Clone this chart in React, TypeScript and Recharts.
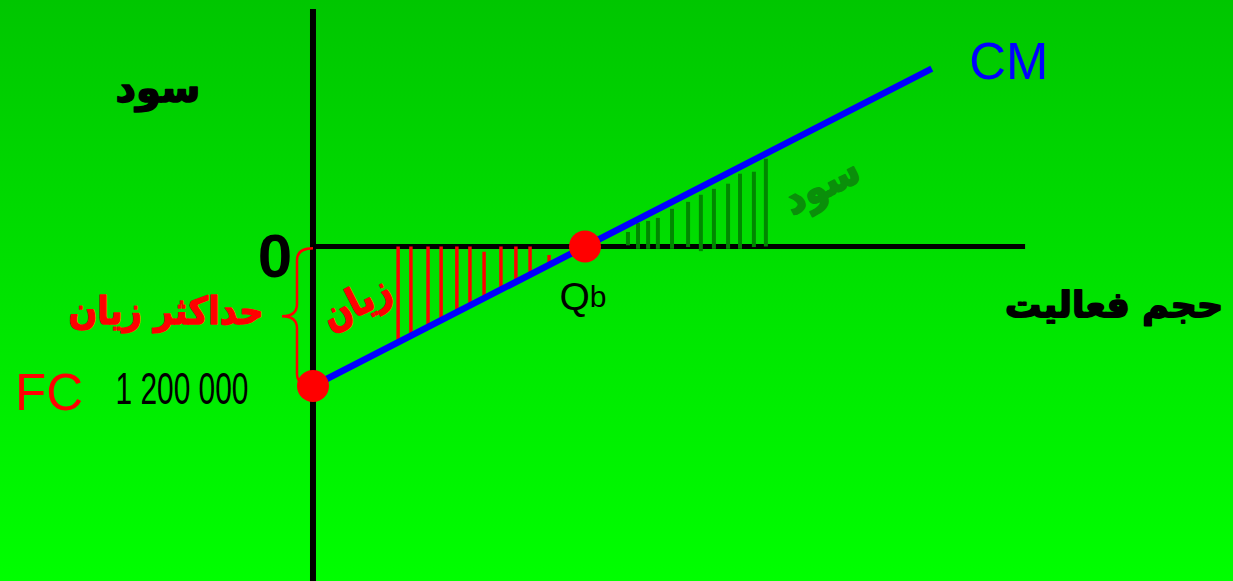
import React from 'react';
import { ComposedChart, Line, XAxis, YAxis, ReferenceLine, ReferenceDot } from 'recharts';

// volume (q) and profit (p, thousands)
const cmQ = [0, 100, 227.5];
const cmProfit = [-1200, 0, 1530];

const fixedCost = -1200;
const breakEvenQ = 100;

// red hatching in the loss triangle
const lossHatchQ = [31.3, 36.0, 42.3, 47.1, 52.9, 57.7, 62.9, 69.1, 74.6, 79.8, 86.8];
const lossHatchTop = [0, 0, 0, 0, 0, 0, -45, 0, 0, 0, -73];
const lossHatchBottom = [-825, -768, -692, -635, -565, -508, -445, -371, -305, -242, -142];

// green hatching in the profit triangle
const profitHatchQ = [115.8, 119.5, 123.2, 126.8, 132.0, 137.9, 142.6, 147.4, 152.6, 157.0, 162.1, 166.5];
const profitHatchTop = [125, 203, 220, 246, 324, 384, 445, 496, 540, 626, 643, 755];
const profitHatchBottom = [10, -20, -20, -20, -20, -5, -40, -20, -20, -20, -5, 0];

const W = 1233;
const H = 581;
const X_DOMAIN: [number, number] = [-115.07, 338.24];
const Y_DOMAIN: [number, number] = [-2877, 2120];
const AXIS_TOP = 2042;
const AXIS_BOTTOM = -2877;
const AXIS_END = 261.8;

const ARABIC = '"DejaVu Sans", sans-serif';
const LATIN = '"Liberation Sans", Arial, sans-serif';

const chartData = cmQ.map((q, i) => ({ q, p: cmProfit[i] }));

type TextOpts = {
  size: number;
  fill?: string;
  bold?: boolean;
  font?: string;
  len?: number;
  rotate?: number;
  heavy?: number;
};

// text drawn relative to a reference point
const textAt = (s: React.ReactNode, dx: number, dy: number, o: TextOpts) => (p: any) => {
  const x = p.cx + dx;
  const y = p.cy + dy;
  const fill = o.fill || '#000';
  return (
    <text
      x={x}
      y={y}
      textAnchor="middle"
      dominantBaseline="central"
      fontSize={o.size}
      fontFamily={o.font || ARABIC}
      fontWeight={o.bold ? 'bold' : 'normal'}
      fill={fill}
      stroke={o.heavy ? fill : undefined}
      strokeWidth={o.heavy}
      strokeLinejoin="round"
      textLength={o.len}
      lengthAdjust={o.len ? 'spacingAndGlyphs' : undefined}
      transform={o.rotate ? `rotate(${o.rotate} ${x} ${y})` : undefined}
    >
      {s}
    </text>
  );
};

const brace = (p: any) => (
  <path
    d={`M ${p.cx} ${p.cy - 68} Q ${p.cx - 16} ${p.cy - 68} ${p.cx - 16} ${p.cy - 56} L ${p.cx - 16} ${p.cy - 12}
        Q ${p.cx - 16} ${p.cy} ${p.cx - 31} ${p.cy} Q ${p.cx - 16} ${p.cy} ${p.cx - 16} ${p.cy + 12}
        L ${p.cx - 16} ${p.cy + 58} Q ${p.cx - 16} ${p.cy + 66} ${p.cx - 9} ${p.cy + 67}`}
    fill="none"
    stroke="#ff0000"
    strokeWidth={2.5}
  />
);

export default function App() {
  return (
    <div
      style={{
        position: 'fixed',
        left: 0,
        top: 0,
        width: W,
        height: H,
        background: 'linear-gradient(#00c600, #00ff00)',
      }}
    >
      <ComposedChart width={W} height={H} data={chartData} margin={{ top: 0, right: 0, bottom: 0, left: 0 }}>
        <XAxis type="number" dataKey="q" domain={X_DOMAIN} hide allowDataOverflow />
        <YAxis type="number" domain={Y_DOMAIN} hide allowDataOverflow />

        {/* axes */}
        <ReferenceLine segment={[{ x: 0, y: AXIS_BOTTOM }, { x: 0, y: AXIS_TOP }]} stroke="#000" strokeWidth={6} ifOverflow="visible" />
        <ReferenceLine segment={[{ x: 0, y: 0 }, { x: AXIS_END, y: 0 }]} stroke="#000" strokeWidth={5} />

        {lossHatchQ.map((q, i) => (
          <ReferenceLine
            key={'l' + i}
            segment={[{ x: q, y: lossHatchTop[i] }, { x: q, y: lossHatchBottom[i] }]}
            stroke="#ff0000"
            strokeWidth={3.5}
          />
        ))}
        {profitHatchQ.map((q, i) => (
          <ReferenceLine
            key={'g' + i}
            segment={[{ x: q, y: profitHatchBottom[i] }, { x: q, y: profitHatchTop[i] }]}
            stroke="#008800"
            strokeWidth={4}
          />
        ))}

        <Line
          type="linear"
          dataKey="p"
          stroke="#0000ff"
          strokeWidth={6.5}
          dot={false}
          activeDot={false}
          isAnimationActive={false}
        />

        <ReferenceDot x={0} y={fixedCost} r={16} fill="#ff0000" stroke="none" />
        <ReferenceDot x={breakEvenQ} y={0} r={16} fill="#ff0000" stroke="none" />

        {/* brace + labels */}
        <ReferenceDot x={0} y={fixedCost / 2} r={0} shape={brace} />
        <ReferenceDot x={0} y={AXIS_TOP} r={0} shape={textAt('سود', -155, 79, { size: 40, bold: true, len: 85, heavy: 1.6 })} />
        <ReferenceDot x={cmQ[2]} y={cmProfit[2]} r={0} shape={textAt('CM', 77, -8, { size: 52, font: LATIN, fill: '#0000ff', len: 79 })} />
        <ReferenceDot x={0} y={0} r={0} shape={textAt('0', -38, 9, { size: 62, font: LATIN, bold: true })} />
        <ReferenceDot
          x={breakEvenQ}
          y={0}
          r={0}
          shape={textAt(
            <>
              <tspan fontSize={39}>Q</tspan>
              <tspan fontSize={30}>b</tspan>
            </>,
            -2,
            50,
            { size: 39, font: LATIN }
          )}
        />
        <ReferenceDot x={AXIS_END} y={0} r={0} shape={textAt('حجم فعالیت', 89, 59, { size: 35, bold: true, len: 218, heavy: 1.8 })} />
        <ReferenceDot x={0} y={fixedCost / 2} r={0} shape={textAt('حداکثر زیان', -147, -5, { size: 38, bold: true, fill: '#ff0000', len: 195, heavy: 1.4 })} />
        <ReferenceDot x={0} y={fixedCost} r={0} shape={textAt('FC', -264, 6, { size: 51, font: LATIN, fill: '#ff0000', len: 68 })} />
        <ReferenceDot x={0} y={fixedCost} r={0} shape={textAt('1 200 000', -131, 2, { size: 44, font: LATIN, len: 133 })} />
        <ReferenceDot x={0} y={fixedCost} r={0} shape={textAt('زیان', 43, -84, { size: 40, bold: true, fill: '#ff0000', len: 72, rotate: -27, heavy: 1.6 })} />
        <ReferenceDot x={breakEvenQ} y={0} r={0} shape={textAt('سود', 236, -62, { size: 42, bold: true, fill: '#0a8f0a', len: 80, rotate: -27, heavy: 1.8 })} />
      </ComposedChart>
    </div>
  );
}
